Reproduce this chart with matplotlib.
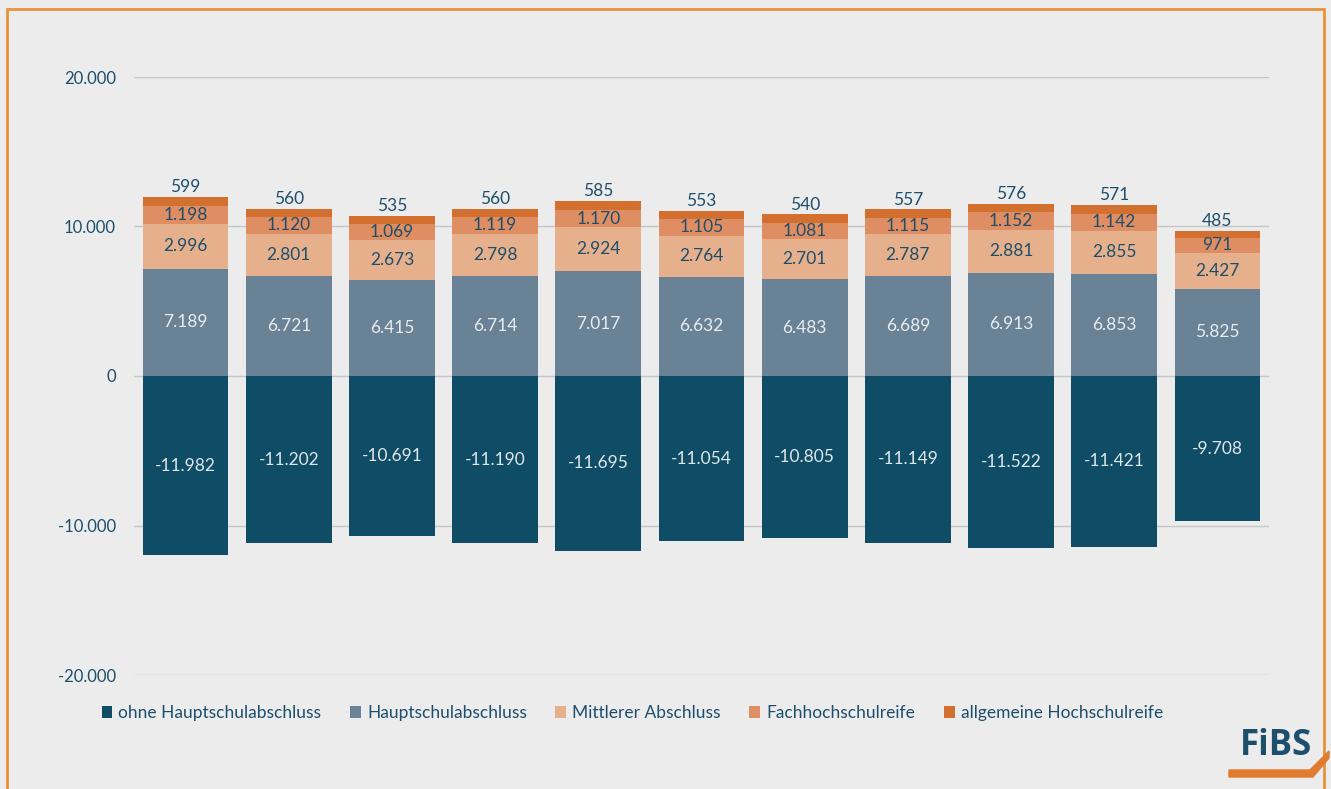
import numpy as np
import matplotlib.pyplot as plt
from matplotlib.patches import Rectangle, Polygon
from matplotlib.ticker import FuncFormatter

plt.rcParams['font.family'] = ['Lato', 'DejaVu Sans']

# Werte je Jahrgang (Balken von links nach rechts)
ohne_hsa = [-11982, -11202, -10691, -11190, -11695, -11054, -10805, -11149, -11522, -11421, -9708]
hauptschul = [7189, 6721, 6415, 6714, 7017, 6632, 6483, 6689, 6913, 6853, 5825]
mittlerer = [2996, 2801, 2673, 2798, 2924, 2764, 2701, 2787, 2881, 2855, 2427]
fachhoch = [1198, 1120, 1069, 1119, 1170, 1105, 1081, 1115, 1152, 1142, 971]
allg_hoch = [599, 560, 535, 560, 585, 553, 540, 557, 576, 571, 485]

labels = ['ohne Hauptschulabschluss', 'Hauptschulabschluss', 'Mittlerer Abschluss',
          'Fachhochschulreife', 'allgemeine Hochschulreife']
farben = ['#0f4c66', '#6a8296', '#e6b08c', '#df8d62', '#d4702f']
yticks = [-20000, -10000, 0, 10000, 20000]

TXT = '#1d4f6c'
BG = '#ececec'


def fmt_de(v):
    return f'{int(v):,}'.replace(',', '.')


fig = plt.figure(figsize=(13.31, 7.89), dpi=100, facecolor=BG)
ax = fig.add_axes([134 / 1331, 1 - 675 / 789, (1269 - 134) / 1331, (675 - 77) / 789])
ax.set_facecolor(BG)

x = np.arange(len(ohne_hsa))
w = 0.83

# negativer Balken
ax.bar(x, ohne_hsa, w, color=farben[0], zorder=3, label=labels[0])
for xi, v in zip(x, ohne_hsa):
    ax.text(xi, v / 2, fmt_de(v), ha='center', va='center', color='#dfe6ea',
            fontsize=12.5, zorder=4)

# positive Stapel
bottom = np.zeros(len(x))
for serie, farbe, lab in zip([hauptschul, mittlerer, fachhoch, allg_hoch], farben[1:], labels[1:]):
    vals = np.array(serie)
    ax.bar(x, vals, w, bottom=bottom, color=farbe, zorder=3, label=lab)
    for xi, b, v in zip(x, bottom, vals):
        if serie is allg_hoch:
            ax.text(xi, b + v + 120, fmt_de(v), ha='center', va='bottom', color=TXT,
                    fontsize=12.5, zorder=4)
        else:
            col = '#e6ecef' if serie is hauptschul else TXT
            ax.text(xi, b + v / 2, fmt_de(v), ha='center', va='center', color=col,
                    fontsize=12.5, zorder=4)
    bottom += vals

ax.set_xlim(-0.5, 10.5)
ax.set_ylim(-20000, 20000)
ax.set_yticks(yticks)
ax.yaxis.set_major_formatter(FuncFormatter(lambda v, p: fmt_de(v)))
ax.tick_params(axis='y', length=0, pad=13, labelsize=12, labelcolor=TXT)
ax.set_xticks([])
ax.grid(axis='y', color='#c4c7c9', linewidth=1, zorder=0)
for s in ax.spines.values():
    s.set_visible(False)

handles, labs = ax.get_legend_handles_labels()
leg = fig.legend(handles, labs, loc='center left', bbox_to_anchor=(86 / 1331, 1 - 713 / 789),
                 ncol=5, frameon=False, fontsize=12.5, handlelength=0.62, handleheight=0.62,
                 handletextpad=0.35, columnspacing=1.65, labelcolor=TXT)

# Rahmen
fig.patches.append(Rectangle((7 / 1331, -0.05), (1324 - 7) / 1331, 1.05 - 9 / 789,
                             transform=fig.transFigure, fill=False, edgecolor='#e8923a',
                             linewidth=2))

# Logo
fig.text(1276 / 1331, 1 - 746 / 789, 'FiBS', ha='center', va='center', fontsize=25,
         fontweight='bold', color=TXT, family=['Open Sans', 'DejaVu Sans'])
swoosh = [(1229, 770), (1310, 770), (1329, 751), (1329, 758), (1313, 777), (1229, 777)]
fig.patches.append(Polygon([(px / 1331, 1 - py / 789) for px, py in swoosh],
                           closed=True, transform=fig.transFigure, color='#e07b30'))

fig.savefig('out.png', dpi=100, facecolor=BG)
